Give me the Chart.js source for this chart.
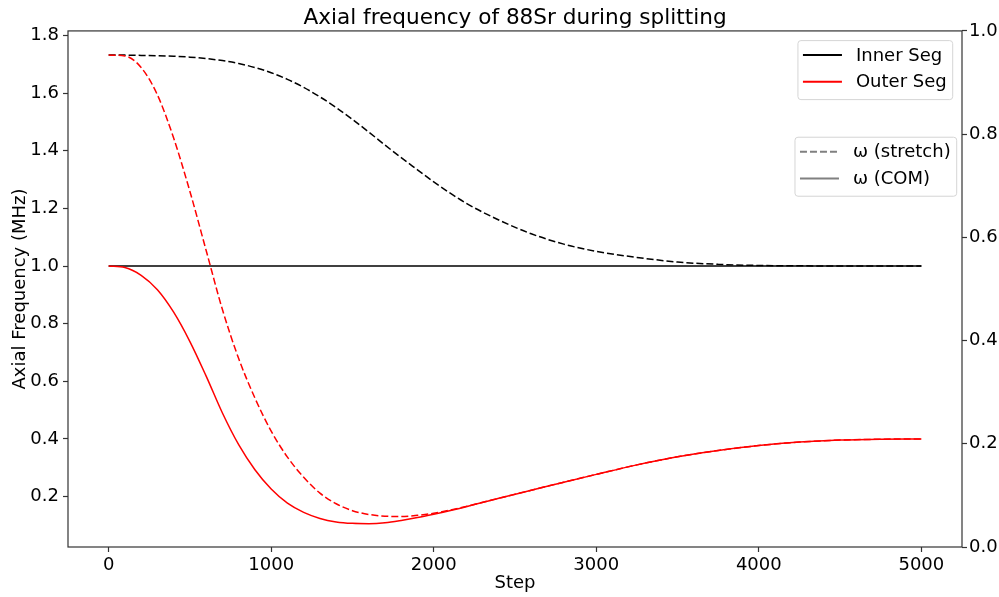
<!DOCTYPE html>
<html>
<head>
<meta charset="utf-8">
<script src="https://cdn.jsdelivr.net/npm/chart.js@4.4.1/dist/chart.umd.min.js"></script>
<style>
body { margin: 0; background: #ffffff; }
#wrap { position: relative; width: 999px; height: 597px; }
</style>
</head>
<body>
<div id="wrap"><canvas id="myChart"></canvas></div>
<script>
// values
var steps = [0,100,200,300,400,500,600,700,800,900,1000,1100,1200,1300,1400,1500,1600,1700,1800,1900,2000,2200,2400,2600,2800,3000,3250,3500,3750,4000,4250,4500,4750,5000];
var innerStretch = [1.732,1.732,1.731,1.730,1.728,1.725,1.720,1.713,1.703,1.689,1.671,1.648,1.620,1.587,1.550,1.509,1.465,1.420,1.376,1.334,1.292,1.218,1.160,1.112,1.076,1.051,1.030,1.014,1.006,1.002,1.001,1.000,1.000,1.000];
var innerCom = [1,1,1,1,1,1,1,1,1,1,1,1,1,1,1,1,1,1,1,1,1,1,1,1,1,1,1,1,1,1,1,1,1,1];
var outerStretch = [1.732,1.729,1.689,1.594,1.444,1.259,1.054,0.849,0.679,0.542,0.427,0.337,0.267,0.212,0.175,0.151,0.138,0.132,0.131,0.135,0.142,0.166,0.194,0.222,0.250,0.277,0.310,0.338,0.360,0.377,0.389,0.396,0.399,0.400];
var outerCom = [1.000,0.995,0.968,0.918,0.840,0.738,0.618,0.490,0.380,0.293,0.226,0.177,0.145,0.124,0.112,0.107,0.106,0.109,0.117,0.127,0.139,0.165,0.194,0.222,0.250,0.277,0.310,0.338,0.360,0.377,0.389,0.396,0.399,0.400];

var xTicks = [0,1000,2000,3000,4000,5000];
var yTicks = [0.2,0.4,0.6,0.8,1.0,1.2,1.4,1.6,1.8];
var rightTicks = [0.0,0.2,0.4,0.6,0.8,1.0];

var segNames = ['Inner Seg','Outer Seg'];
var segColors = ['#000000','#ff0000'];
var modeNames = ['\u03c9 (stretch)','\u03c9 (COM)'];

var FONT = "'DejaVu Sans', sans-serif";
var DASH = [7, 3];

Chart.defaults.font.family = FONT;
Chart.defaults.color = '#000000';

function pts(vals) {
	return steps.map(function(s, i) { return {x: s, y: vals[i]}; });
}

function line(vals, color, dashed) {
	return {
		data: pts(vals),
		borderColor: color,
		borderWidth: 1.5,
		borderDash: dashed ? DASH : [],
		pointRadius: 0,
		fill: false,
		cubicInterpolationMode: 'monotone',
		yAxisID: 'y'
	};
}

function fixTicks(list) {
	return function(scale) {
		scale.ticks = list.map(function(v) { return {value: v}; });
	};
}

var tickGrid = {drawOnChartArea: false, drawTicks: true, tickLength: 5, tickColor: '#333333', tickWidth: 1.2};

// put the title over the plot area, not the whole canvas
var centerTitle = {
	id: 'centerTitle',
	afterLayout: function(chart) {
		chart.titleBlock.left = chart.chartArea.left;
		chart.titleBlock.right = chart.chartArea.right;
	}
};

function legendBox(ctx, right, top, names, colors, dashes) {
	ctx.save();
	ctx.font = '18px ' + FONT;
	var textW = 0;
	names.forEach(function(n) { textW = Math.max(textW, ctx.measureText(n).width); });
	var w = 5 + 39 + 14 + textW + 6;
	var h = 59;
	var left = right - w;
	ctx.beginPath();
	if (ctx.roundRect) ctx.roundRect(left, top, w, h, 3); else ctx.rect(left, top, w, h);
	ctx.fillStyle = 'rgba(255,255,255,0.8)';
	ctx.fill();
	ctx.lineWidth = 1;
	ctx.strokeStyle = '#d5d5d5';
	ctx.stroke();
	for (var i = 0; i < names.length; i++) {
		var yy = top + 14.5 + i * 26.7;
		ctx.beginPath();
		ctx.setLineDash(dashes[i]);
		ctx.strokeStyle = colors[i];
		ctx.lineWidth = 2;
		ctx.moveTo(left + 5, yy);
		ctx.lineTo(left + 44, yy);
		ctx.stroke();
		ctx.setLineDash([]);
		ctx.fillStyle = '#000000';
		ctx.textBaseline = 'middle';
		ctx.textAlign = 'left';
		ctx.fillText(names[i], left + 58, yy + 1);
	}
	ctx.restore();
}

var frameAndLegends = {
	id: 'frameAndLegends',
	afterDraw: function(chart) {
		var ctx = chart.ctx;
		var a = chart.chartArea;
		ctx.save();
		ctx.strokeStyle = '#333333';
		ctx.lineWidth = 1.2;
		ctx.strokeRect(a.left, a.top, a.right - a.left, a.bottom - a.top);
		ctx.restore();
		legendBox(ctx, a.right - 9.3, a.top + 9.7, segNames, segColors, [[], []]);
		legendBox(ctx, a.right - 5.3, a.top + 106.3, modeNames, ['#808080', '#808080'], [DASH, []]);
	}
};

var ctx = document.getElementById('myChart').getContext('2d');
var myChart = new Chart(ctx, {
	type: 'line',
	data: {
		datasets: [
			line(outerCom, '#ff0000', false),
			line(outerStretch, '#ff0000', true),
			line(innerCom, '#000000', false),
			line(innerStretch, '#000000', true)
		]
	},
	options: {
		responsive: true,
		maintainAspectRatio: false,
		animation: false,
		layout: {padding: 0},
		plugins: {
			legend: {display: false},
			tooltip: {enabled: false},
			title: {
				display: true,
				text: 'Axial frequency of 88Sr during splitting',
				font: {size: 21.6, weight: 'normal', family: FONT},
				color: '#000000',
				padding: {top: 5, bottom: 0}
			}
		},
		scales: {
			x: {
				type: 'linear',
				min: -250,
				max: 5250,
				afterBuildTicks: fixTicks(xTicks),
				afterFit: function(s) { s.height = 50; },
				grid: tickGrid,
				border: {display: false},
				ticks: {font: {size: 18}, padding: 3, maxRotation: 0,
					callback: function(v) { return String(v); }},
				title: {display: true, text: 'Step', font: {size: 18}, padding: {top: 0, bottom: 3}}
			},
			y: {
				type: 'linear',
				position: 'left',
				min: 0.025,
				max: 1.816,
				afterBuildTicks: fixTicks(yTicks),
				afterFit: function(s) { s.width = 68; },
				grid: tickGrid,
				border: {display: false},
				ticks: {font: {size: 18}, padding: 4,
					callback: function(v) { return v.toFixed(1); }},
				title: {display: true, text: 'Axial Frequency (MHz)', font: {size: 18}, padding: {top: 10, bottom: 0}}
			},
			y2: {
				type: 'linear',
				position: 'right',
				min: 0,
				max: 1,
				afterBuildTicks: fixTicks(rightTicks),
				afterFit: function(s) { s.width = 37; },
				grid: tickGrid,
				border: {display: false},
				ticks: {font: {size: 18}, padding: 2,
					callback: function(v) { return v.toFixed(1); }}
			}
		}
	},
	plugins: [centerTitle, frameAndLegends]
});
</script>
</body>
</html>
